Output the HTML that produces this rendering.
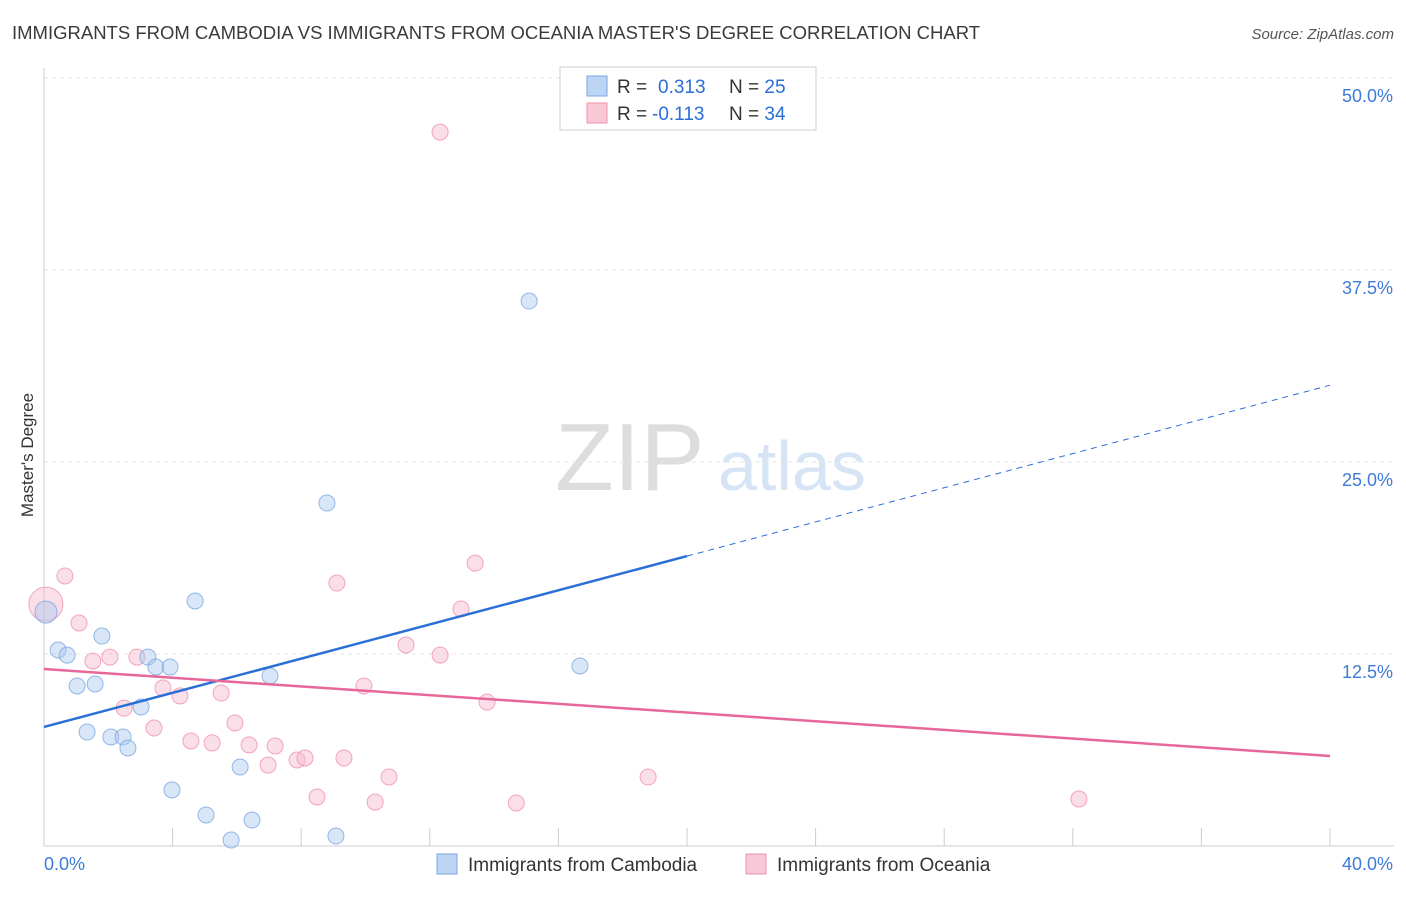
<!DOCTYPE html>
<html><head><meta charset="utf-8"><style>
body{margin:0;background:#fff;font-family:"Liberation Sans",sans-serif;}
svg text{font-family:"Liberation Sans",sans-serif;}
</style></head><body>
<svg id="c" width="1406" height="892">
<text x="12" y="39" font-size="18.5" fill="#3a3a3a">IMMIGRANTS FROM CAMBODIA VS IMMIGRANTS FROM OCEANIA MASTER'S DEGREE CORRELATION CHART</text>
<text x="1394" y="39" font-size="15" fill="#555" text-anchor="end" font-style="italic">Source: ZipAtlas.com</text>
<text x="33" y="455" font-size="17" fill="#333" text-anchor="middle" transform="rotate(-90 33 455)">Master's Degree</text>
<text x="555" y="490" font-size="96" fill="#ddd" font-family="Liberation Serif">ZIP</text>
<text x="718" y="490" font-size="70" fill="#d6e4f5">atlas</text>
<g id="grid"></g><g id="marks"></g>
<g>
<rect x="560" y="67" width="256" height="63" fill="#fff" stroke="#ccc"/>
<rect x="587" y="76" width="20" height="20" fill="#bcd5f5" stroke="#7aa7e0"/>
<text x="617" y="93" font-size="19" fill="#333">R = <tspan fill="#2a6fd6" x="658">0.313</tspan><tspan x="729">N = </tspan><tspan fill="#2a6fd6">25</tspan></text>
<rect x="587" y="103" width="20" height="20" fill="#f9c8d6" stroke="#f090b0"/>
<text x="617" y="120" font-size="19" fill="#333">R = <tspan fill="#2a6fd6" x="652">-0.113</tspan><tspan x="729">N = </tspan><tspan fill="#2a6fd6">34</tspan></text>
</g>
<g>
<rect x="437" y="854" width="20" height="20" fill="#bcd5f5" stroke="#7aa7e0"/>
<text x="468" y="871" font-size="19" fill="#333">Immigrants from Cambodia</text>
<rect x="746" y="854" width="20" height="20" fill="#f9c8d6" stroke="#f090b0"/>
<text x="777" y="871" font-size="19" fill="#333">Immigrants from Oceania</text>
</g>
</svg>
<script>
const yTicks=[12.5,25,37.5,50];
const yTickLabels=["12.5%","25.0%","37.5%","50.0%"];
const blueX=[0.06,0.44,0.72,1.03,1.59,1.80,1.34,2.08,2.46,2.61,3.02,3.23,3.48,3.92,4.70,3.98,5.04,5.82,6.10,6.47,7.03,8.80,9.08,15.09,16.67];
const blueY=[15.23,12.76,12.43,10.42,10.55,13.67,7.42,7.10,7.10,6.38,9.05,12.30,11.65,11.65,15.95,3.65,2.02,0.39,5.14,1.69,11.07,22.33,0.65,35.48,11.72];
const pinkX=[0.06,0.65,1.09,1.52,2.05,2.49,2.89,3.42,3.70,4.23,4.57,5.23,5.51,5.94,6.38,6.97,7.19,7.87,8.12,8.49,9.11,9.33,9.95,10.30,10.73,11.26,12.32,12.97,13.41,13.78,14.69,18.79,32.19,12.32];
const pinkY=[15.75,17.58,14.52,12.04,12.30,8.98,12.30,7.68,10.29,9.77,6.84,6.71,9.96,8.01,6.58,5.27,6.51,5.60,5.73,3.19,17.12,5.73,10.42,2.86,4.49,13.09,12.43,15.43,18.42,9.37,2.80,4.49,3.06,46.48];
const blueTrend=[7.75,30.0];
const pinkTrend=[11.52,5.86];
const NS="http://www.w3.org/2000/svg";
const X=v=>44+v/40*1286, Y=v=>846-v/12.5*192;
function mk(t,a,p){const e=document.createElementNS(NS,t);for(const k in a)e.setAttribute(k,a[k]);p.appendChild(e);return e;}
const g=document.getElementById('grid'), m=document.getElementById('marks');
yTicks.forEach((t,i)=>{
 const l=mk('line',{x1:44,x2:1394,y1:Y(t),y2:Y(t),stroke:'#e6e6e6','stroke-dasharray':'4,4'},g);
 
 
 const tx=mk('text',{x:1393,y:Y(t)+24,'font-size':18,fill:'#3d7bd9','text-anchor':'end'},g);tx.textContent=yTickLabels[i];
 
 
});
mk('line',{x1:44,x2:44,y1:68,y2:846,stroke:'#ccc'},g);
mk('line',{x1:44,x2:1394,y1:846,y2:846,stroke:'#ccc'},g);
for(let v=0;v<=40;v+=4){const t=mk('line',{x1:X(v),x2:X(v),y1:828,y2:846,stroke:'#ccc'},g);
 
 }
let a=mk('text',{x:44,y:870,'font-size':18,fill:'#3d7bd9'},g);a.textContent='0.0%';


a=mk('text',{x:1393,y:870,'font-size':18,fill:'#3d7bd9','text-anchor':'end'},g);a.textContent='40.0%';


function dots(xs,ys,fill,st,name,big){xs.forEach((x,i)=>{const c=mk('circle',{cx:X(x),cy:Y(ys[i]),r:i==0?big:8,fill:fill,'fill-opacity':0.45,stroke:st,'stroke-opacity':0.8},m);
 
 });}
dots(pinkX,pinkY,'#f7b8cc','#f090b0','oceania-point',17);
dots(blueX,blueY,'#a8c8f0','#7aa7e0','cambodia-point',11);
const bm=blueTrend[0]+(blueTrend[1]-blueTrend[0])*0.5;
let l=mk('line',{x1:X(0),y1:Y(blueTrend[0]),x2:X(20),y2:Y(bm),stroke:'#2a6fd6','stroke-width':2.5},m);


l=mk('line',{x1:X(20),y1:Y(bm),x2:X(40),y2:Y(blueTrend[1]),stroke:'#2a6fd6','stroke-width':1,'stroke-dasharray':'6,5'},m);


l=mk('line',{x1:X(0),y1:Y(pinkTrend[0]),x2:X(40),y2:Y(pinkTrend[1]),stroke:'#e8679a','stroke-width':2.5},m);


</script>
</body></html>
